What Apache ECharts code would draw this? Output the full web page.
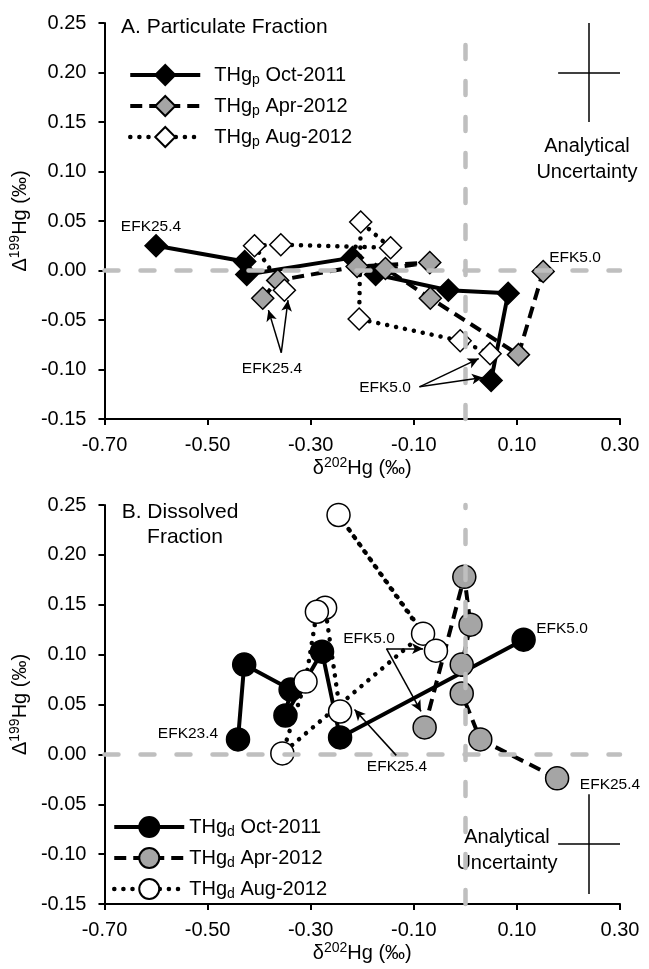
<!DOCTYPE html>
<html>
<head>
<meta charset="utf-8">
<script src="https://cdn.jsdelivr.net/npm/echarts@6/dist/echarts.min.js"></script>
<style>
html, body { margin: 0; padding: 0; background: #fff; }
#main { width: 649px; height: 969px; }
</style>
</head>
<body>
<div id="main"></div>
<script>
// A. particulate fraction  [d202Hg, D199Hg]
var partOct = [[-0.600, 0.025], [-0.428, 0.009], [-0.424, -0.004], [-0.219, 0.013], [-0.174, -0.004], [-0.033, -0.020], [0.083, -0.023], [0.050, -0.111]];
var partApr = [[-0.393, -0.028], [-0.364, -0.010], [-0.210, 0.004], [-0.069, 0.008], [-0.155, 0.002], [-0.068, -0.028], [0.103, -0.085], [0.151, -0.001]];
var partAug = [[-0.351, -0.020], [-0.409, 0.025], [-0.358, 0.026], [-0.145, 0.023], [-0.203, 0.049], [-0.206, -0.049], [-0.010, -0.071], [0.048, -0.084]];
// B. dissolved fraction
var dissOct = [[-0.441, 0.015], [-0.429, 0.090], [-0.339, 0.065], [-0.349, 0.039], [-0.278, 0.103], [-0.243, 0.017], [0.113, 0.115]];
var dissApr = [[0.178, -0.024], [0.029, 0.015], [-0.007, 0.061], [-0.007, 0.090], [0.010, 0.130], [-0.002, 0.178], [-0.079, 0.027]];
var dissAug = [[-0.243, 0.043], [-0.272, 0.147], [-0.288, 0.143], [-0.310, 0.073], [-0.355, 0.001], [-0.082, 0.121], [-0.246, 0.240], [-0.057, 0.104]];

var xTicks = [-0.70, -0.50, -0.30, -0.10, 0.10, 0.30];
// analytical uncertainty cross: centre and half widths
var uncCenterA = [0.24, 0.20];
var uncCenterB = [0.24, -0.09];
var uncHalf = [0.06, 0.05];
// arrows from the station labels, [from, to]
var arrowsA = [[[-0.357, -0.083], [-0.382, -0.040]], [[-0.357, -0.083], [-0.344, -0.030]],
               [[-0.089, -0.1175], [0.026, -0.089]], [[-0.089, -0.1175], [0.034, -0.108]]];
var arrowsB = [[[-0.153, 0.106], [-0.082, 0.106]], [[-0.153, 0.106], [-0.086, 0.043]],
               [[-0.134, -0.001], [-0.215, 0.045]]];

var FONT = '"Liberation Sans", Arial, sans-serif';
var myChart = echarts.init(document.getElementById('main'));

var solidLine = { color: '#000', width: 4, type: 'solid' };
var dashLine = { color: '#000', width: 4, type: [12, 7] };
var dotLine = { color: '#000', width: 4.5, type: [0.1, 9], cap: 'round' };

function dataSeries(name, data, idx, line, fill, symbol, size) {
    return {
        name: name, type: 'line', xAxisIndex: idx, yAxisIndex: idx, z: 3,
        data: data, symbol: symbol, symbolSize: size, showSymbol: true,
        lineStyle: line,
        itemStyle: { color: fill, borderColor: '#000', borderWidth: 1.5 }
    };
}

function crossLines(c) {
    return [
        [{ coord: [c[0] - uncHalf[0], c[1]] }, { coord: [c[0] + uncHalf[0], c[1]] }],
        [{ coord: [c[0], c[1] - uncHalf[1]] }, { coord: [c[0], c[1] + uncHalf[1]] }]
    ];
}

function refSeries(idx) {
    return {
        type: 'line', xAxisIndex: idx, yAxisIndex: idx, data: [], z: 1, silent: true,
        markLine: {
            silent: true, symbol: 'none', label: { show: false },
            lineStyle: { color: '#bfbfbf', width: 4.5, type: [14, 22], cap: 'round' },
            data: [{ xAxis: 0 }, { yAxis: 0 }]
        }
    };
}

function noteSeries(idx, arrows, cross) {
    return [{
        type: 'line', xAxisIndex: idx, yAxisIndex: idx, data: [], z: 4, silent: true,
        markLine: {
            silent: true, symbol: ['none', 'arrow'], symbolSize: [8, 11], label: { show: false },
            lineStyle: { color: '#000', width: 1.5, type: 'solid' },
            data: arrows.map(function (a) { return [{ coord: a[0] }, { coord: a[1] }]; })
        }
    }, {
        type: 'line', xAxisIndex: idx, yAxisIndex: idx, data: [], z: 4, silent: true,
        markLine: {
            silent: true, symbol: 'none', label: { show: false },
            lineStyle: { color: '#000', width: 1.5, type: 'solid' },
            data: crossLines(cross)
        }
    }];
}

function xAxisOpt(idx) {
    return {
        gridIndex: idx, type: 'value', min: -0.7, max: 0.3, interval: 0.1,
        name: '{n|δ}{p|202}{n|Hg (‰)}', nameLocation: 'middle', nameGap: 37,
        nameTextStyle: { rich: {
            n: { fontSize: 20, fontFamily: FONT, color: '#000', lineHeight: 24 },
            p: { fontSize: 14, fontFamily: FONT, color: '#000', lineHeight: 12, verticalAlign: 'top' }
        } },
        axisLine: { onZero: false, lineStyle: { color: '#000', width: 2 } },
        axisTick: { show: true, length: 6, lineStyle: { color: '#000', width: 2 }, customValues: xTicks },
        axisLabel: { fontSize: 20, fontFamily: FONT, color: '#000', margin: 16, customValues: xTicks,
            formatter: function (v) { return v.toFixed(2); } },
        splitLine: { show: false }
    };
}

function yAxisOpt(idx) {
    return {
        gridIndex: idx, type: 'value', min: -0.15, max: 0.25, interval: 0.05,
        name: '{n|Δ}{p|199}{n|Hg (‰)}', nameLocation: 'middle', nameGap: 71,
        nameTextStyle: { rich: {
            n: { fontSize: 20, fontFamily: FONT, color: '#000', lineHeight: 24 },
            p: { fontSize: 14, fontFamily: FONT, color: '#000', lineHeight: 12, verticalAlign: 'top' }
        } },
        axisLine: { onZero: false, lineStyle: { color: '#000', width: 2 } },
        axisTick: { show: true, length: 6, lineStyle: { color: '#000', width: 2 } },
        axisLabel: { fontSize: 20, fontFamily: FONT, color: '#000', margin: 18,
            formatter: function (v) { return v.toFixed(2); } },
        splitLine: { show: false }
    };
}

function legendFmt(name) {
    var p = name.split('_');
    return '{a|THg}{s|' + p[1].charAt(0) + '}{n|' + p[1].slice(1) + '}';
}

function legendOpt(names, left, top, gap) {
    var styles = [solidLine, dashLine, dotLine];
    return {
        data: names.map(function (n, i) { return { name: n, lineStyle: styles[i] }; }),
        orient: 'vertical', left: left, top: top, padding: 0,
        itemWidth: 70, itemHeight: 25, itemGap: 8, selectedMode: false,
        lineStyle: { width: 4 },
        formatter: legendFmt,
        textStyle: { rich: {
            a: { fontSize: 20, fontFamily: FONT, color: '#000', lineHeight: 24, padding: [0, 0, 0, gap] },
            s: { fontSize: 14, fontFamily: FONT, color: '#000', lineHeight: 6, verticalAlign: 'bottom' },
            n: { fontSize: 20, fontFamily: FONT, color: '#000', lineHeight: 24 }
        } }
    };
}

function txt(s, x, y, size, align) {
    return { type: 'text', style: { text: s, x: x, y: y, fill: '#000', fontSize: size, fontFamily: FONT,
        textAlign: align || 'center', textVerticalAlign: 'middle' } };
}

var series = [refSeries(0), refSeries(1),
    dataSeries('THg_p Oct-2011', partOct, 0, solidLine, '#000', 'diamond', 22),
    dataSeries('THg_p Apr-2012', partApr, 0, dashLine, '#a5a5a5', 'diamond', 22),
    dataSeries('THg_p Aug-2012', partAug, 0, dotLine, '#fff', 'diamond', 22),
    dataSeries('THg_d Oct-2011', dissOct, 1, solidLine, '#000', 'circle', 23),
    dataSeries('THg_d Apr-2012', dissApr, 1, dashLine, '#a5a5a5', 'circle', 23),
    dataSeries('THg_d Aug-2012', dissAug, 1, dotLine, '#fff', 'circle', 23)
].concat(noteSeries(0, arrowsA, uncCenterA), noteSeries(1, arrowsB, uncCenterB));

myChart.setOption({
    animation: false,
    backgroundColor: '#fff',
    grid: [
        { left: 101, top: 23, width: 519, height: 396 },
        { left: 101, top: 505, width: 519, height: 399 }
    ],
    xAxis: [xAxisOpt(0), xAxisOpt(1)],
    yAxis: [yAxisOpt(0), yAxisOpt(1)],
    legend: [
        legendOpt(['THg_p Oct-2011', 'THg_p Apr-2012', 'THg_p Aug-2012'], 128, 64, 9),
        legendOpt(['THg_d Oct-2011', 'THg_d Apr-2012', 'THg_d Aug-2012'], 112, 816, 0)
    ],
    graphic: [
        txt('A. Particulate Fraction', 121, 27, 21, 'left'),
        txt('Analytical', 587, 146, 20),
        txt('Uncertainty', 587, 172, 20),
        txt('EFK25.4', 151, 227, 15.5),
        txt('EFK25.4', 272, 369, 15.5),
        txt('EFK5.0', 575, 258, 15.5),
        txt('EFK5.0', 385, 388, 15.5),
        txt('B. Dissolved', 180, 512, 21),
        txt('Fraction', 185, 537, 21),
        txt('Analytical', 507, 837, 20),
        txt('Uncertainty', 507, 863, 20),
        txt('EFK23.4', 188, 734, 15.5),
        txt('EFK5.0', 562, 629, 15.5),
        txt('EFK5.0', 369, 639, 15.5),
        txt('EFK25.4', 397, 767, 15.5),
        txt('EFK25.4', 610, 785, 15.5)
    ],
    series: series
});
</script>
</body>
</html>
